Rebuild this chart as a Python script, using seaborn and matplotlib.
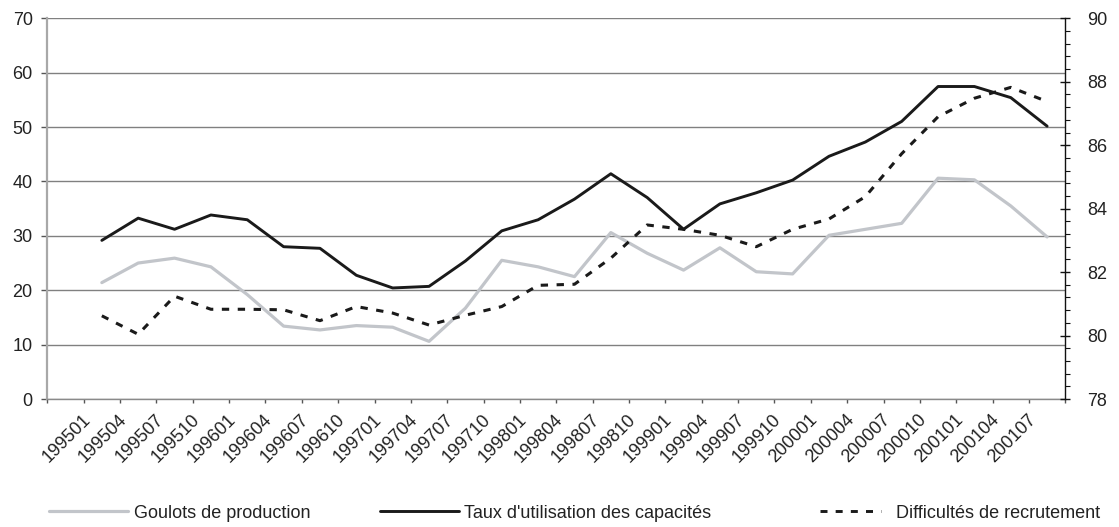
import matplotlib
matplotlib.use("Agg")
import matplotlib.pyplot as plt
import matplotlib.transforms as mtransforms
from matplotlib.ticker import MultipleLocator
from matplotlib.lines import Line2D
import numpy as np
import pandas as pd
import seaborn as sns

# Quarterly survey series, 1995 Q1 - 2001 Q3
quarters = ["199501", "199504", "199507", "199510",
            "199601", "199604", "199607", "199610",
            "199701", "199704", "199707", "199710",
            "199801", "199804", "199807", "199810",
            "199901", "199904", "199907", "199910",
            "200001", "200004", "200007", "200010",
            "200101", "200104", "200107"]

goulots = [21.4, 25.0, 25.9, 24.3, 19.2, 13.4, 12.7, 13.5, 13.2, 10.6,
           16.7, 25.5, 24.3, 22.5, 30.6, 26.8, 23.7, 27.8, 23.4, 23.0,
           30.1, 31.2, 32.3, 40.6, 40.3, 35.5, 29.8]

difficultes = [15.3, 11.9, 18.9, 16.5, 16.5, 16.4, 14.4, 17.0, 15.8, 13.6,
               15.4, 17.0, 20.9, 21.1, 25.9, 32.0, 31.2, 30.1, 28.0, 31.2,
               33.1, 37.2, 45.1, 51.9, 55.3, 57.3, 54.7]

taux = [83.0, 83.7, 83.35, 83.8, 83.65, 82.8, 82.75, 81.9, 81.5, 81.55,
        82.35, 83.3, 83.65, 84.3, 85.1, 84.35, 83.35, 84.15, 84.5, 84.9,
        85.65, 86.1, 86.75, 87.85, 87.85, 87.5, 86.6]

names = ["Goulots de production",
         "Taux d'utilisation des capacités",
         "Difficultés de recrutement"]

# category slot 0 is left empty, the quarters occupy slots 1..27
pos = np.arange(1, len(quarters) + 1)
df = pd.DataFrame({"pos": pos, "goulots": goulots,
                   "difficultes": difficultes, "taux": taux})

sns.set_style("white")
plt.rcParams["font.family"] = ["Liberation Sans", "DejaVu Sans"]

GREY = "#c2c5ca"
DARK = "#1a1a1a"
DASH = (0, (2.4, 2.8))
FS = 13

W, H = 1119, 527
fig = plt.figure(figsize=(W / 100, H / 100), dpi=100)
ax = fig.add_axes([47.3 / W, 1 - 399 / H, (1065.3 - 47.3) / W, (399 - 18.3) / H])
ax2 = ax.twinx()

sns.lineplot(data=df, x="pos", y="goulots", ax=ax, color=GREY, lw=2.3,
             legend=False)
sns.lineplot(data=df, x="pos", y="difficultes", ax=ax, color=DARK, lw=2.2,
             linestyle=DASH, legend=False)
sns.lineplot(data=df, x="pos", y="taux", ax=ax2, color=DARK, lw=2.1,
             legend=False)

# left axis
ax.set_xlim(-0.5, len(quarters) + 0.5)
ax.set_ylim(0, 70)
ax.yaxis.set_major_locator(MultipleLocator(10))
ax.grid(axis="y", color="#808080", lw=1.0)
ax.grid(axis="x", visible=False)
ax.set_axisbelow(True)
ax.set_xlabel("")
ax.set_ylabel("")
ax.tick_params(axis="y", which="major", direction="out", length=4,
               width=1, color="#555555", pad=6.5, labelsize=FS,
               labelcolor="#222222", left=True)

# right axis
ax2.set_ylim(78, 90)
ax2.set_yticks(np.arange(78, 91, 2))
ax2.yaxis.set_minor_locator(MultipleLocator(0.4))
ax2.set_ylabel("")
ax2.tick_params(axis="y", which="major", direction="inout", length=7.5,
                width=1, color="#111111", pad=12, labelsize=FS,
                labelcolor="#222222", right=True)
ax2.tick_params(axis="y", which="minor", direction="out", length=3.4,
                width=0.8, color="#111111", right=True)

# category axis: boundary ticks, labels at slot centres
ax.tick_params(axis="x", which="major", length=0, pad=13, labelsize=FS,
               labelcolor="#222222", bottom=True)
ax.tick_params(axis="x", which="minor", direction="out", length=3,
               width=1, color="#555555", bottom=True)
ax.set_xticks(np.arange(-0.5, len(quarters) + 1, 1.0), minor=True)
ax.set_xticks(pos)
ax.set_xticklabels(quarters)
shift = mtransforms.ScaledTranslation(-14 / 100, 0, fig.dpi_scale_trans)
for lbl in ax.get_xticklabels():
    lbl.set_rotation(45)
    lbl.set_ha("right")
    lbl.set_va("center")
    lbl.set_rotation_mode("anchor")
    lbl.set_transform(lbl.get_transform() + shift)

for a in (ax, ax2):
    a.spines["top"].set_visible(False)
ax.spines["right"].set_visible(False)
ax2.spines["left"].set_visible(False)
ax2.spines["bottom"].set_visible(False)
ax.spines["left"].set_color("#a8a8a8")
ax.spines["left"].set_linewidth(1.6)
ax.spines["bottom"].set_color("#8a8a8a")
ax.spines["bottom"].set_linewidth(1.0)
ax2.spines["right"].set_color("#111111")
ax2.spines["right"].set_linewidth(1.0)

# legend entries laid out along the bottom
legend_y = 1 - 513 / H
entries = [
    (Line2D([], [], color=GREY, lw=2.3), names[0], 49, 4.4, 0.3),
    (Line2D([], [], color=DARK, lw=2.1), names[1], 380, 4.4, 0.25),
    (Line2D([], [], color=DARK, lw=2.1, linestyle=DASH), names[2], 820, 3.4, 0.8),
]
for handle, text, x0, hl, tp in entries:
    fig.legend(handles=[handle], labels=[text], loc="center left",
               bbox_to_anchor=(x0 / W, legend_y), frameon=False,
               borderpad=0, borderaxespad=0, handlelength=hl,
               handletextpad=tp, fontsize=FS, labelcolor="#222222")

fig.savefig("out.png", dpi=100)
